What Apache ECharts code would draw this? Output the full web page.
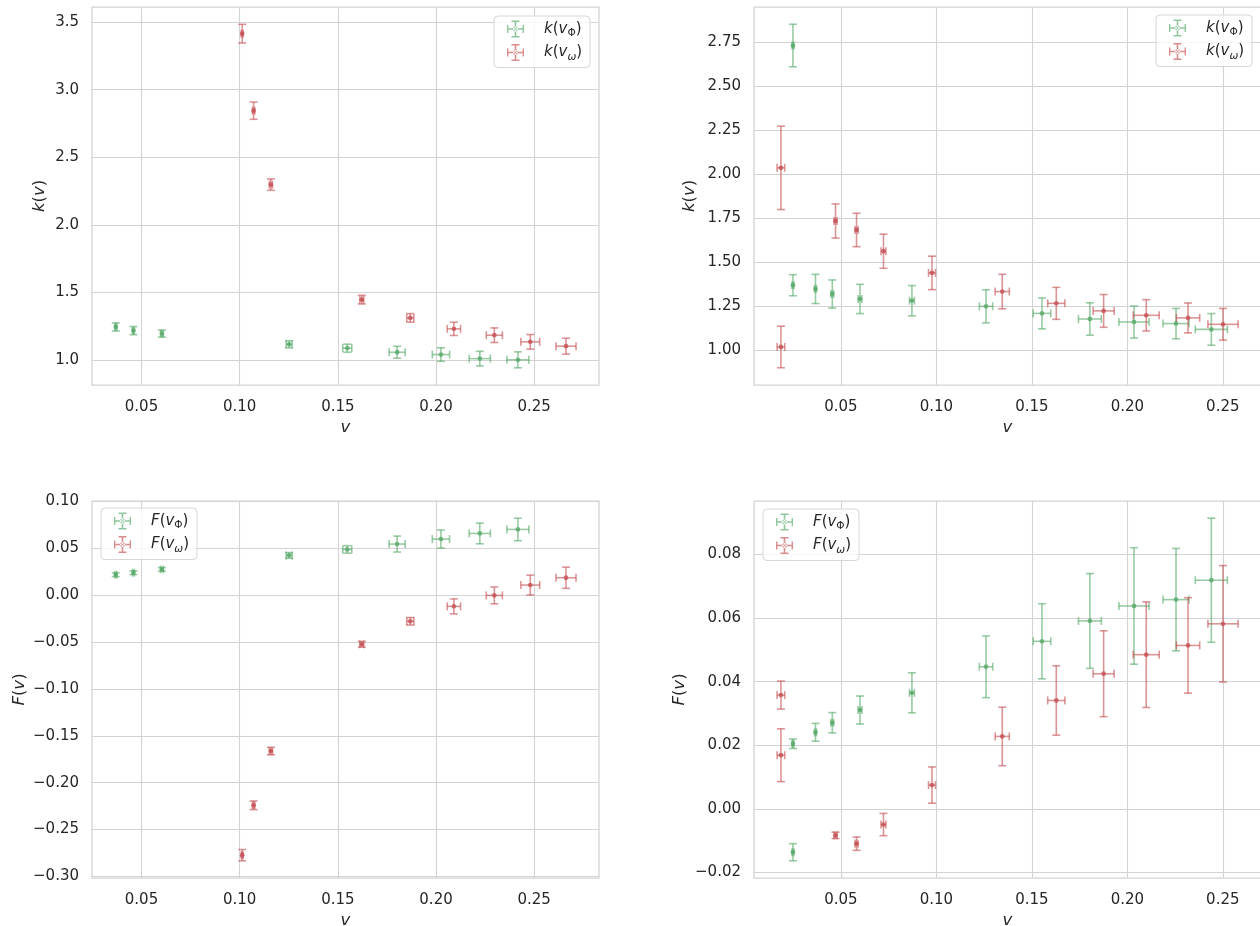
<!DOCTYPE html>
<html>
<head>
<meta charset="utf-8">
<script src="https://cdn.jsdelivr.net/npm/echarts@6/dist/echarts.min.js"></script>
<style>
html,body{margin:0;padding:0;background:#fff;}
#c{width:1260px;height:926px;}
</style>
</head>
<body>
<div id="c"></div>
<script>
// ---------- DATA ----------
// Left column (top: k(v), bottom: F(v)) share the same v values
const vPhiL   = [0.0369, 0.0459, 0.0604, 0.1252, 0.1548, 0.1802, 0.2025, 0.2223, 0.2417];
const vPhiLerr= [0.0005, 0.0005, 0.0007, 0.0015, 0.0023, 0.0041, 0.0044, 0.0054, 0.0056];
const kPhiL   = [1.246, 1.219, 1.197, 1.118, 1.089, 1.059, 1.042, 1.012, 1.003];
const kPhiLerr= [0.030, 0.030, 0.026, 0.026, 0.030, 0.044, 0.050, 0.054, 0.059];
const FPhiL   = [0.0216, 0.0238, 0.0273, 0.0422, 0.0486, 0.0543, 0.0596, 0.0656, 0.0699];
const FPhiLerr= [0.0020, 0.0020, 0.0020, 0.0030, 0.0040, 0.0085, 0.0096, 0.0110, 0.0120];

const vOmL    = [0.1013, 0.1071, 0.1159, 0.1622, 0.1869, 0.2091, 0.2297, 0.2480, 0.2662];
const vOmLerr = [0.0005, 0.0006, 0.0008, 0.0010, 0.0018, 0.0034, 0.0041, 0.0048, 0.0051];
const kOmL    = [3.414, 2.845, 2.298, 1.448, 1.313, 1.232, 1.185, 1.136, 1.104];
const kOmLerr = [0.069, 0.064, 0.042, 0.032, 0.032, 0.049, 0.054, 0.054, 0.059];
const FOmL    = [-0.2773, -0.2241, -0.1663, -0.0525, -0.0280, -0.0121, -0.0004, 0.0106, 0.0184];
const FOmLerr = [0.0060, 0.0046, 0.0040, 0.0030, 0.0040, 0.0080, 0.0090, 0.0106, 0.0113];

// Right column (top: k(v), bottom: F(v)) share the same v values
const vPhiR   = [0.0249, 0.0249, 0.0367, 0.0455, 0.0600, 0.0872, 0.1260, 0.1553, 0.1804, 0.2035, 0.2255, 0.2440];
const vPhiRerr= [0.0005, 0.0005, 0.0005, 0.0007, 0.0010, 0.0013, 0.0035, 0.0046, 0.0060, 0.0079, 0.0068, 0.0084];
const kPhiR   = [2.731, 1.369, 1.348, 1.319, 1.291, 1.281, 1.249, 1.209, 1.177, 1.160, 1.151, 1.118];
const kPhiRerr= [0.121, 0.060, 0.083, 0.080, 0.083, 0.086, 0.094, 0.088, 0.092, 0.091, 0.086, 0.090];
const FPhiR   = [-0.0136, 0.0205, 0.0241, 0.0271, 0.0311, 0.0365, 0.0447, 0.0527, 0.0591, 0.0638, 0.0658, 0.0719];
const FPhiRerr= [0.0027, 0.0015, 0.0028, 0.0032, 0.0044, 0.0063, 0.0097, 0.0118, 0.0149, 0.0183, 0.0161, 0.0195];

const vOmR    = [0.0186, 0.0186, 0.0472, 0.0582, 0.0723, 0.0977, 0.1345, 0.1628, 0.1876, 0.2099, 0.2318, 0.2501];
const vOmRerr = [0.0020, 0.0020, 0.0008, 0.0008, 0.0013, 0.0018, 0.0037, 0.0045, 0.0055, 0.0068, 0.0061, 0.0079];
const kOmR    = [2.036, 1.018, 1.734, 1.683, 1.562, 1.439, 1.333, 1.266, 1.223, 1.198, 1.183, 1.147];
const kOmRerr = [0.237, 0.118, 0.097, 0.095, 0.097, 0.095, 0.098, 0.091, 0.093, 0.089, 0.085, 0.090];
const FOmR    = [0.0358, 0.0169, -0.0083, -0.0109, -0.0049, 0.0075, 0.0228, 0.0341, 0.0425, 0.0485, 0.0514, 0.0582];
const FOmRerr = [0.0044, 0.0083, 0.0010, 0.0021, 0.0035, 0.0057, 0.0092, 0.0109, 0.0135, 0.0166, 0.0150, 0.0183];

// Tick values
const xTicksL = [0.05, 0.10, 0.15, 0.20, 0.25];
const xTicksR = [0.05, 0.10, 0.15, 0.20, 0.25];
const kTicksL = [1.0, 1.5, 2.0, 2.5, 3.0, 3.5];
const kTicksR = [1.00, 1.25, 1.50, 1.75, 2.00, 2.25, 2.50, 2.75];
const FTicksL = [-0.30, -0.25, -0.20, -0.15, -0.10, -0.05, 0.00, 0.05, 0.10];
const FTicksR = [-0.02, 0.00, 0.02, 0.04, 0.06, 0.08];

// ---------- STYLE ----------
const GREEN = '85,168,104';
const RED = '196,78,82';
const TXT = '#262626';
const GRIDC = '#d3d3d3';
const FONT = 'DejaVu Sans';

function zip4(a, b, c, d) { return a.map((v, i) => [v, b[i], c[i], d[i]]); }

function errRender(rgb) {
  return function (params, api) {
    const x = api.value(0), y = api.value(1), xe = api.value(2), ye = api.value(3);
    const c = api.coord([x, y]);
    const l = api.coord([x - xe, y]), r = api.coord([x + xe, y]);
    const t = api.coord([x, y + ye]), b = api.coord([x, y - ye]);
    const cap = 4;
    const st = { stroke: 'rgba(' + rgb + ',0.6)', lineWidth: 1.6 };
    const line = (x1, y1, x2, y2) => ({ type: 'line', shape: { x1, y1, x2, y2 }, style: st });
    return {
      type: 'group',
      children: [
        line(l[0], c[1], r[0], c[1]),
        line(c[0], t[1], c[0], b[1]),
        line(l[0], c[1] - cap, l[0], c[1] + cap),
        line(r[0], c[1] - cap, r[0], c[1] + cap),
        line(c[0] - cap, t[1], c[0] + cap, t[1]),
        line(c[0] - cap, b[1], c[0] + cap, b[1]),
        { type: 'circle', shape: { cx: c[0], cy: c[1], r: 2.4 }, style: { fill: 'rgba(' + rgb + ',0.75)' } }
      ]
    };
  };
}

function fmt(dec) {
  return function (v) { return v.toFixed(dec).replace('-', '\u2212'); };
}

const grids = [
  { left: 92, top: 7, width: 507, height: 378 },
  { left: 754, top: 7, width: 507, height: 378 },
  { left: 92, top: 501, width: 507, height: 377 },
  { left: 754, top: 501, width: 507, height: 377 }
].map(g => Object.assign(g, { show: true, borderColor: GRIDC, borderWidth: 1.25, backgroundColor: 'transparent', containLabel: false, outerBoundsMode: 'none' }));

function xAxis(idx, min, max, ticks) {
  return {
    type: 'value', gridIndex: idx, min, max,
    name: 'v', nameLocation: 'middle', nameGap: 34,
    nameTextStyle: { fontFamily: FONT, fontSize: 16.5, fontStyle: 'italic', color: TXT },
    axisLine: { show: false }, axisTick: { show: false, customValues: ticks },
    axisLabel: { customValues: ticks, formatter: fmt(2), fontFamily: FONT, fontSize: 15, color: TXT, margin: 15 },
    splitLine: { show: true, lineStyle: { color: GRIDC, width: 1.1 } }
  };
}
function yAxis(idx, min, max, ticks, dec, nameStr, gap) {
  return {
    type: 'value', gridIndex: idx, min, max,
    name: nameStr, nameLocation: 'middle', nameGap: gap,
    nameTextStyle: { fontFamily: FONT, fontSize: 16.5, color: TXT, rich: { i: { fontFamily: FONT, fontSize: 16.5, fontStyle: 'italic', color: TXT } } },
    axisLine: { show: false }, axisTick: { show: false, customValues: ticks },
    axisLabel: { customValues: ticks, formatter: fmt(dec), fontFamily: FONT, fontSize: 15, color: TXT, margin: 13 },
    splitLine: { show: true, lineStyle: { color: GRIDC, width: 1.1 } }
  };
}

const ICON = 'path://M0,7.7H17V9.3H0Z M7.7,0H9.3V17H7.7Z M0,4.5H1.4V12.5H0Z M15.6,4.5H17V12.5H15.6Z M4.5,0H12.5V1.4H4.5Z M4.5,15.6H12.5V17H4.5Z M6,8.5A2.5,2.5 0 1,0 11,8.5A2.5,2.5 0 1,0 6,8.5Z';

const LABELS = {
  k1g: '{i|k}({i|v}{s|\u03A6})', k1r: '{i|k}({i|v}{si|\u03C9})',
  k2g: '{i|k}({i|v}{s|\u03A6})', k2r: '{i|k}({i|v}{si|\u03C9})',
  F3g: '{i|F}({i|v}{s|\u03A6})', F3r: '{i|F}({i|v}{si|\u03C9})',
  F4g: '{i|F}({i|v}{s|\u03A6})', F4r: '{i|F}({i|v}{si|\u03C9})'
};

function legend(names, left, top) {
  return {
    orient: 'vertical', left, top,
    data: [
      { name: names[0], icon: ICON, itemStyle: { color: 'rgba(' + GREEN + ',0.65)' } },
      { name: names[1], icon: ICON, itemStyle: { color: 'rgba(' + RED + ',0.65)' } }
    ],
    itemWidth: 17, itemHeight: 17, itemGap: 3.5,
    padding: [3, 8, 5, 13],
    backgroundColor: 'rgba(255,255,255,0.8)', borderColor: '#d6d6d6', borderWidth: 1, borderRadius: 4,
    selectedMode: false,
    formatter: n => LABELS[n],
    textStyle: {
      fontFamily: FONT, fontSize: 15, color: TXT, lineHeight: 20, padding: [0, 0, 0, 15],
      rich: {
        i: { fontFamily: FONT, fontSize: 15, fontStyle: 'italic', color: TXT, lineHeight: 20 },
        s: { fontFamily: FONT, fontSize: 10.5, color: TXT, lineHeight: 11, verticalAlign: 'bottom' },
        si: { fontFamily: FONT, fontSize: 10.5, fontStyle: 'italic', color: TXT, lineHeight: 11, verticalAlign: 'bottom' }
      }
    }
  };
}

function series(name, idx, rgb, data) {
  return {
    name, type: 'custom', xAxisIndex: idx, yAxisIndex: idx,
    renderItem: errRender(rgb), data, encode: { x: 0, y: 1 }, clip: true, silent: true
  };
}

const option = {
  animation: false,
  backgroundColor: '#ffffff',
  grid: grids,
  xAxis: [
    xAxis(0, 0.0248, 0.2830, xTicksL),
    xAxis(1, 0.0045, 0.2700, xTicksR),
    xAxis(2, 0.0248, 0.2830, xTicksL),
    xAxis(3, 0.0045, 0.2700, xTicksR)
  ],
  yAxis: [
    yAxis(0, 0.817, 3.611, kTicksL, 1, '{i|k}({i|v})', 44),
    yAxis(1, 0.802, 2.950, kTicksR, 2, '{i|k}({i|v})', 56),
    yAxis(2, -0.3016, 0.1002, FTicksL, 2, '{i|F}({i|v})', 64),
    yAxis(3, -0.0217, 0.0968, FTicksR, 2, '{i|F}({i|v})', 66)
  ],
  legend: [
    legend(['k1g', 'k1r'], 494, 16),
    legend(['k2g', 'k2r'], 1156, 15),
    legend(['F3g', 'F3r'], 101, 508),
    legend(['F4g', 'F4r'], 763, 509)
  ],
  series: [
    series('k1g', 0, GREEN, zip4(vPhiL, kPhiL, vPhiLerr, kPhiLerr)),
    series('k1r', 0, RED, zip4(vOmL, kOmL, vOmLerr, kOmLerr)),
    series('k2g', 1, GREEN, zip4(vPhiR, kPhiR, vPhiRerr, kPhiRerr)),
    series('k2r', 1, RED, zip4(vOmR, kOmR, vOmRerr, kOmRerr)),
    series('F3g', 2, GREEN, zip4(vPhiL, FPhiL, vPhiLerr, FPhiLerr)),
    series('F3r', 2, RED, zip4(vOmL, FOmL, vOmLerr, FOmLerr)),
    series('F4g', 3, GREEN, zip4(vPhiR, FPhiR, vPhiRerr, FPhiRerr)),
    series('F4r', 3, RED, zip4(vOmR, FOmR, vOmRerr, FOmRerr))
  ]
};

const chart = echarts.init(document.getElementById('c'), null, { renderer: 'canvas' });
chart.setOption(option);
</script>
</body>
</html>
